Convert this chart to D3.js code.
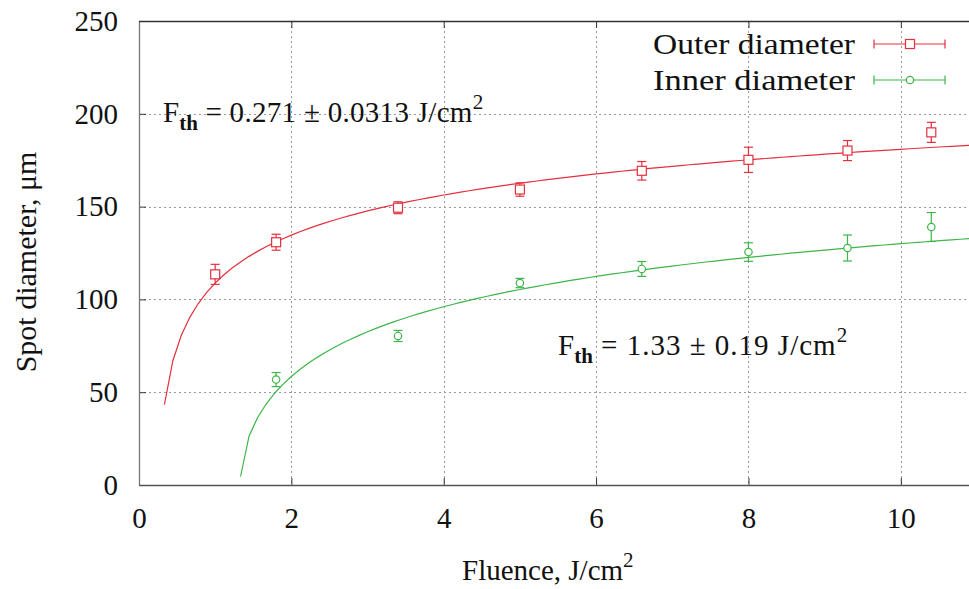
<!DOCTYPE html>
<html>
<head>
<meta charset="utf-8">
<script src="https://cdn.jsdelivr.net/npm/d3@7"></script>
<style>
  html, body { margin: 0; padding: 0; background: #fff; }
  svg { display: block; }
  svg text { font-family: "Liberation Serif", "Times New Roman", serif !important; fill: #111; }
</style>
</head>
<body>
<svg id="chart" width="969" height="589"></svg>
<script>
// ---- data ----
const fluence = [1.0, 1.8, 3.4, 5.0, 6.6, 8.0, 9.3, 10.4];
const outerFluence = fluence;
const outerDiameter = [113.5, 130.8, 149.4, 159.2, 169.3, 175.2, 180.2, 190.0];
const outerError = [5.4, 4.3, 3.2, 3.6, 5.0, 6.8, 5.4, 5.4];
const innerFluence = fluence.slice(1);
const innerDiameter = [56.8, 80.3, 108.8, 116.4, 125.5, 127.7, 139.0];
const innerError = [3.8, 3.0, 2.5, 4.0, 5.0, 7.0, 7.8];
// fit parameters: D^2 = 2 w0^2 ln(F / Fth)
const fitThreshold = [0.271, 1.33];
const fitTwoW0Sq = [9068, 8380];
const xTicks = [0, 2, 4, 6, 8, 10];
const yTicks = [0, 50, 100, 150, 200, 250];
const seriesNames = ["Outer diameter", "Inner diameter"];
const colors = ["#e3303e", "#3db54a"];

// ---- layout ----
const svg = d3.select("#chart");
const pL = 139, pR = 977, pT = 21, pB = 485;
const x = d3.scaleLinear().domain([0, 11]).range([pL, pR]);
const y = d3.scaleLinear().domain([0, 250]).range([pB, pT]);

// clip
svg.append("clipPath").attr("id", "plotclip").append("rect")
  .attr("x", pL).attr("y", pT).attr("width", pR - pL).attr("height", pB - pT);

// grid
const grid = svg.append("g").attr("stroke", "#9a9a9a").attr("stroke-width", 1)
  .attr("stroke-dasharray", "2,3");
xTicks.filter(d => d > 0).forEach(d => {
  grid.append("line").attr("x1", Math.round(x(d)) + 0.5).attr("x2", Math.round(x(d)) + 0.5)
    .attr("y1", pT).attr("y2", pB);
});
yTicks.filter(d => d > 0 && d < 250).forEach(d => {
  grid.append("line").attr("x1", pL).attr("x2", pR)
    .attr("y1", Math.round(y(d)) + 0.5).attr("y2", Math.round(y(d)) + 0.5);
});

// axes
const xAxisB = d3.axisBottom(x).tickValues(xTicks).tickSize(-7).tickFormat(d3.format("d")).tickPadding(22);
const gx = svg.append("g").attr("transform", `translate(0,${pB})`).call(xAxisB);
gx.select(".domain").remove();
gx.selectAll(".tick line").attr("stroke", "#333");
gx.selectAll("text").attr("font-size", 29).attr("fill", "#111");

const xAxisT = d3.axisTop(x).tickValues(xTicks).tickSize(-7).tickFormat("");
const gxt = svg.append("g").attr("transform", `translate(0,${pT})`).call(xAxisT);
gxt.select(".domain").remove();
gxt.selectAll(".tick line").attr("stroke", "#333");

const yAxisL = d3.axisLeft(y).tickValues(yTicks).tickSize(-7).tickFormat(d3.format("d")).tickPadding(21);
const gy = svg.append("g").attr("transform", `translate(${pL},0)`).call(yAxisL);
gy.select(".domain").remove();
gy.selectAll(".tick line").attr("stroke", "#333");
gy.selectAll("text").attr("font-size", 29).attr("fill", "#111");

// border lines
svg.append("line").attr("x1", pL + 0.5).attr("x2", pL + 0.5).attr("y1", pT).attr("y2", pB)
  .attr("stroke", "#777").attr("stroke-width", 1.3);
svg.append("line").attr("x1", pL).attr("x2", pR).attr("y1", pB + 0.5).attr("y2", pB + 0.5)
  .attr("stroke", "#555").attr("stroke-width", 1.3);
svg.append("line").attr("x1", pL).attr("x2", pR).attr("y1", pT + 0.5).attr("y2", pT + 0.5)
  .attr("stroke", "#333").attr("stroke-width", 1.3);

// fit curves (gnuplot-style sampling: 100 samples over [0, 11])
const samples = d3.range(100).map(i => i * 11 / 99);
const line = d3.line().x(d => x(d[0])).y(d => y(d[1]));
fitThreshold.forEach((fth, k) => {
  const pts = samples.filter(f => f > fth).map(f => [f, Math.sqrt(fitTwoW0Sq[k] * Math.log(f / fth))]);
  svg.append("path").datum(pts).attr("d", line).attr("fill", "none")
    .attr("stroke", colors[k]).attr("stroke-width", 1.2).attr("clip-path", "url(#plotclip)");
});

// error bars + markers
function drawSeries(xs, ys, es, color, marker) {
  const g = svg.append("g").attr("stroke", color).attr("fill", "none").attr("stroke-width", 1.2);
  xs.forEach((xv, i) => {
    const cx = x(xv), cy = y(ys[i]);
    const y1 = y(ys[i] + es[i]), y2 = y(ys[i] - es[i]);
    g.append("line").attr("x1", cx).attr("x2", cx).attr("y1", y1).attr("y2", y2);
    g.append("line").attr("x1", cx - 4.5).attr("x2", cx + 4.5).attr("y1", y1).attr("y2", y1);
    g.append("line").attr("x1", cx - 4.5).attr("x2", cx + 4.5).attr("y1", y2).attr("y2", y2);
    if (marker === "square") {
      g.append("rect").attr("x", cx - 4.5).attr("y", cy - 4.5).attr("width", 9).attr("height", 9).attr("fill", "#fff");
    } else {
      g.append("circle").attr("cx", cx).attr("cy", cy).attr("r", 3.7).attr("fill", "#fff");
    }
  });
}
drawSeries(outerFluence, outerDiameter, outerError, colors[0], "square");
drawSeries(innerFluence, innerDiameter, innerError, colors[1], "circle");

// legend
const legendY = [44, 80];
const legendMarkers = ["square", "circle"];
seriesNames.forEach((name, k) => {
  const ly = legendY[k];
  svg.append("text").attr("x", 855).attr("y", ly + 10).attr("text-anchor", "end")
    .attr("font-size", 29).attr("textLength", 202).attr("lengthAdjust", "spacingAndGlyphs").text(name);
  const g = svg.append("g").attr("stroke", colors[k]).attr("fill", "none").attr("stroke-width", 1.2);
  g.append("line").attr("x1", 874).attr("x2", 945).attr("y1", ly).attr("y2", ly);
  g.append("line").attr("x1", 874).attr("x2", 874).attr("y1", ly - 4.5).attr("y2", ly + 4.5);
  g.append("line").attr("x1", 945).attr("x2", 945).attr("y1", ly - 4.5).attr("y2", ly + 4.5);
  if (legendMarkers[k] === "square") {
    g.append("rect").attr("x", 910 - 4.5).attr("y", ly - 4.5).attr("width", 9).attr("height", 9).attr("fill", "#fff");
  } else {
    g.append("circle").attr("cx", 910).attr("cy", ly).attr("r", 3.7).attr("fill", "#fff");
  }
});

// annotations
function fthLabel(xPos, yPos, rest, spacing) {
  const t = svg.append("text").attr("x", xPos).attr("y", yPos).attr("font-size", 29);
  t.append("tspan").text("F");
  t.append("tspan").attr("font-size", 21).attr("font-weight", "bold").attr("dy", 8).text("th");
  t.append("tspan").attr("dy", -8).attr("letter-spacing", spacing).text(" = " + rest + " J/cm");
  t.append("tspan").attr("font-size", 21).attr("dy", -13).text("2");
}
fthLabel(163, 122, "0.271 ± 0.0313", 0.3);
fthLabel(558, 355, "1.33 ± 0.19", 1.0);

// axis titles
const xl = svg.append("text").attr("x", 462).attr("y", 580).attr("font-size", 29);
xl.append("tspan").text("Fluence, J/cm");
xl.append("tspan").attr("font-size", 21).attr("dy", -13).text("2");

svg.append("text").attr("transform", "translate(36,262) rotate(-90)").attr("text-anchor", "middle")
  .attr("font-size", 30).text("Spot diameter, μm");
</script>
</body>
</html>
